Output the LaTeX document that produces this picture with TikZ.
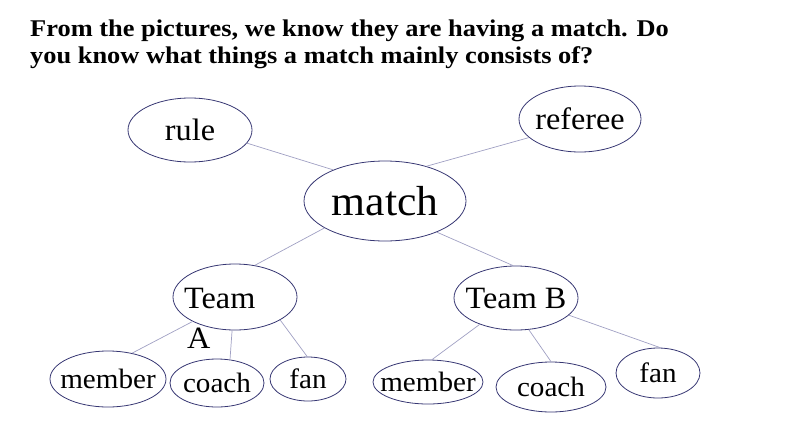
\documentclass[tikz,border=0pt]{standalone}
\usepackage{fontspec}
\setmainfont[FakeStretch=1.04]{Liberation Serif}
\newfontfamily\headfont[FakeStretch=1.1]{Liberation Serif}
\usetikzlibrary{shapes.geometric}
\definecolor{ringblue}{RGB}{55,55,115}
\definecolor{linkgray}{RGB}{160,160,195}
\newcommand{\slim}[1]{\makebox[0pt]{#1}}
\tikzset{
  bubble/.style = {ellipse, draw=ringblue, line width=0.8pt, inner sep=0pt, text centered},
  word/.style = {font=\fontsize{28}{28}\selectfont},
  midword/.style = {font=\fontsize{31}{31}\selectfont},
  bigword/.style = {font=\fontsize{42}{42}\selectfont},
  link/.style = {draw=linkgray, line width=0.7pt},
  headline/.style = {anchor=base west, inner sep=0pt, font=\headfont\bfseries\fontsize{24}{28}\selectfont},
}

\begin{document}
\begin{tikzpicture}[x=1pt, y=-1pt]
  \useasboundingbox (0,0) rectangle (794,447);
  \node [headline] (title1) at (30,36) {From the pictures, we know they are having a match. Do};
  \node [headline] (title2) at (30,63) {you know what things a match mainly consists of?};
  % top row
  \node [bubble, midword, minimum width=124, minimum height=64] (rule) at (190,130) {\slim{rule}};
  \node [bubble, midword, minimum width=122, minimum height=66] (referee) at (580,119) {\slim{referee}};
  \node [bubble, bigword, minimum width=162, minimum height=80] (match) at (385,201) {\slim{match}};
  % teams
  \node [bubble, minimum width=124, minimum height=66] (teamA) at (235,297) {};
  \node [midword, anchor=base west, inner sep=0pt] (teamAtop) at (184,308) {Team};
  \node [midword, anchor=base west, inner sep=0pt] (teamAbot) at (187,348) {A};
  \node [bubble, midword, minimum width=124, minimum height=64] (teamB) at (516,298) {\slim{Team B}};
  % players
  \node [bubble, word, minimum width=116, minimum height=56] (memberA) at (108,379) {\slim{member}};
  \node [bubble, word, minimum width=94, minimum height=48] (coachA) at (217,383) {\slim{coach}};
  \node [bubble, word, minimum width=76, minimum height=44] (fanA) at (308,379) {\slim{fan}};
  \node [bubble, word, minimum width=110, minimum height=44] (memberB) at (428,382) {\slim{member}};
  \node [bubble, word, minimum width=110, minimum height=50] (coachB) at (551,387) {\slim{coach}};
  \node [bubble, word, minimum width=84, minimum height=50] (fanB) at (658,373) {\slim{fan}};

  \draw [link] (rule.-13) -- (match.149);
  \draw [link] (referee.-160) -- (match.40);
  \draw [link] (match.-156) -- (teamA.58);
  \draw [link] (match.-31) -- (teamB.95);
  \draw [link] (teamA.-150) -- (memberA.47);
  \draw [link] (teamA.-95) -- (coachA.61);
  \draw [link] (teamA.-27) -- (fanA.92);
  \draw [link] (teamB.-144) -- (memberB.80);
  \draw [link] (teamB.-68) -- (coachB.90);
  \draw [link] (teamB.-18) -- (fanB.85);
\end{tikzpicture}
\end{document}
